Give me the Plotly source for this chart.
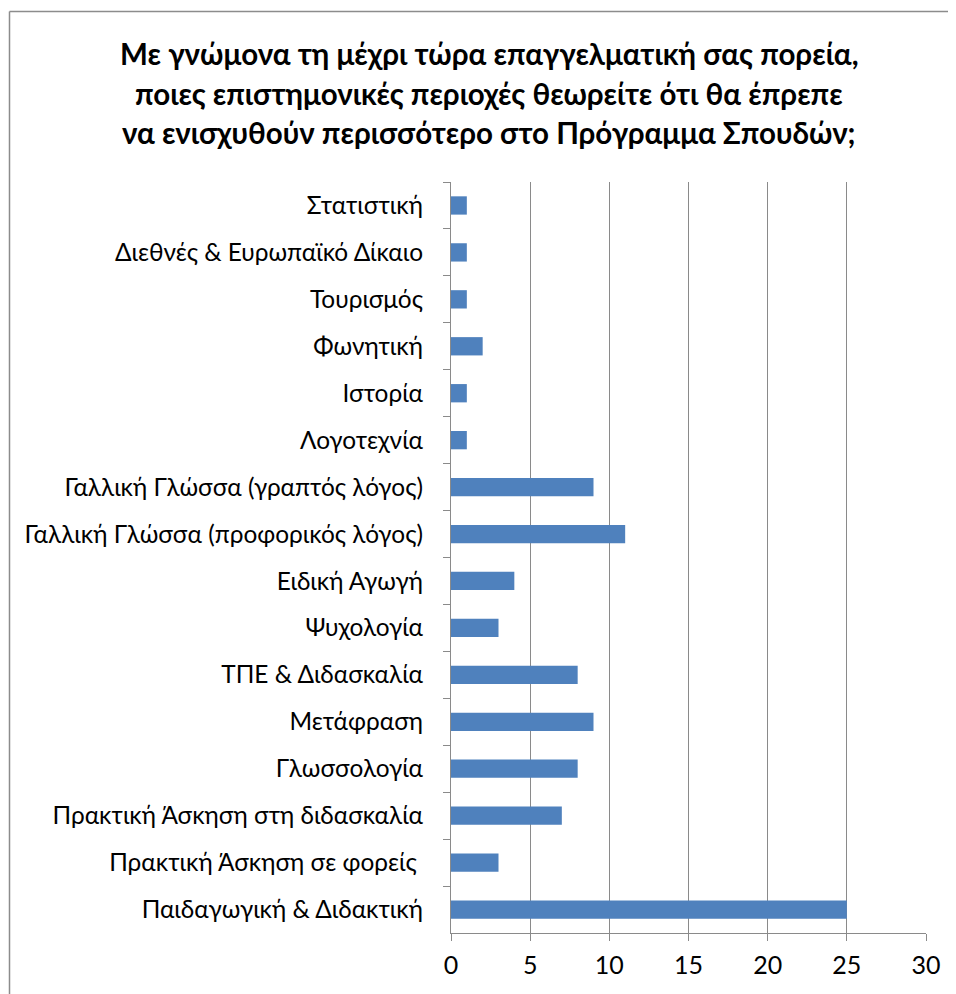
import plotly.graph_objects as go

categories = [
    "Στατιστική",
    "Διεθνές & Ευρωπαϊκό Δίκαιο",
    "Τουρισμός",
    "Φωνητική",
    "Ιστορία",
    "Λογοτεχνία",
    "Γαλλική Γλώσσα (γραπτός λόγος)",
    "Γαλλική Γλώσσα (προφορικός λόγος)",
    "Ειδική Αγωγή",
    "Ψυχολογία",
    "ΤΠΕ & Διδασκαλία",
    "Μετάφραση",
    "Γλωσσολογία",
    "Πρακτική Άσκηση στη διδασκαλία",
    "Πρακτική Άσκηση σε φορείς ",
    "Παιδαγωγική & Διδακτική",
]
values = [1, 1, 1, 2, 1, 1, 9, 11, 4, 3, 8, 9, 8, 7, 3, 25]
x_ticks = [0, 5, 10, 15, 20, 25, 30]
title_lines = [
    "Με γνώμονα τη μέχρι τώρα επαγγελματική σας πορεία,",
    "ποιες επιστημονικές περιοχές θεωρείτε ότι θα έπρεπε",
    "να ενισχυθούν περισσότερο στο Πρόγραμμα Σπουδών;",
]

OFF = 8  # default page body margin
W, H = 956 - OFF, 994 - OFF
L = 451 - OFF
R = W - (926 - OFF)
T = 182 - OFF
B = H - (933 - OFF)
pw, ph = W - L - R, H - T - B


def px_x(p):
    return (p - OFF - L) / pw


def px_y(p):
    return (H - B - (p - OFF)) / ph


FONT = "Lato"
BORDER = "#8C8C8C"

fig = go.Figure(go.Bar(
    x=values, y=categories, orientation="h",
    marker=dict(color="#4F81BD", line=dict(width=0)),
))

annotations = []
for i, line in enumerate(title_lines):
    annotations.append(dict(
        text="<b>" + line + "</b>", xref="paper", yref="paper",
        x=px_x(489), y=px_y(53 + 40 * i), xanchor="center", yanchor="middle",
        showarrow=False, font=dict(family=FONT, size=29.5, color="#000000"),
    ))

fig.update_layout(
    width=W, height=H,
    margin=dict(l=L, r=R, t=T, b=B, pad=0),
    paper_bgcolor="white", plot_bgcolor="white",
    showlegend=False,
    bargap=0.61,
    font=dict(family=FONT, size=24, color="#000000"),
    annotations=annotations,
    shapes=[
        dict(type="line", xref="paper", yref="paper", layer="above",
             x0=px_x(9.5), x1=px_x(1000), y0=px_y(11.5), y1=px_y(11.5),
             line=dict(color=BORDER, width=1.5)),
        dict(type="line", xref="paper", yref="paper", layer="above",
             x0=px_x(9.5), x1=px_x(9.5), y0=px_y(11.5), y1=px_y(1040),
             line=dict(color=BORDER, width=1.5)),
    ],
    xaxis=dict(
        range=[0, 30], tickvals=x_ticks, showgrid=True, gridcolor="#8A8A8A",
        gridwidth=1.3, showline=True, linecolor="#8A8A8A", linewidth=1.3,
        ticks="outside", ticklen=7, tickcolor="#8A8A8A", tickwidth=1.3,
        zeroline=False, tickfont=dict(family=FONT, size=25),
        ticklabelstandoff=3, fixedrange=True,
    ),
    yaxis=dict(
        autorange="reversed", showline=True, linecolor="#8A8A8A", linewidth=1.3,
        ticks="outside", ticklen=7, tickcolor="#8A8A8A", tickwidth=1.3,
        tickson="boundaries", showgrid=False, ticklabelstandoff=22,
        tickfont=dict(family=FONT, size=24.4),
    ),
)

fig.write_html(
    "out.html",
    post_script="document.documentElement.style.overflow='hidden';",
)
